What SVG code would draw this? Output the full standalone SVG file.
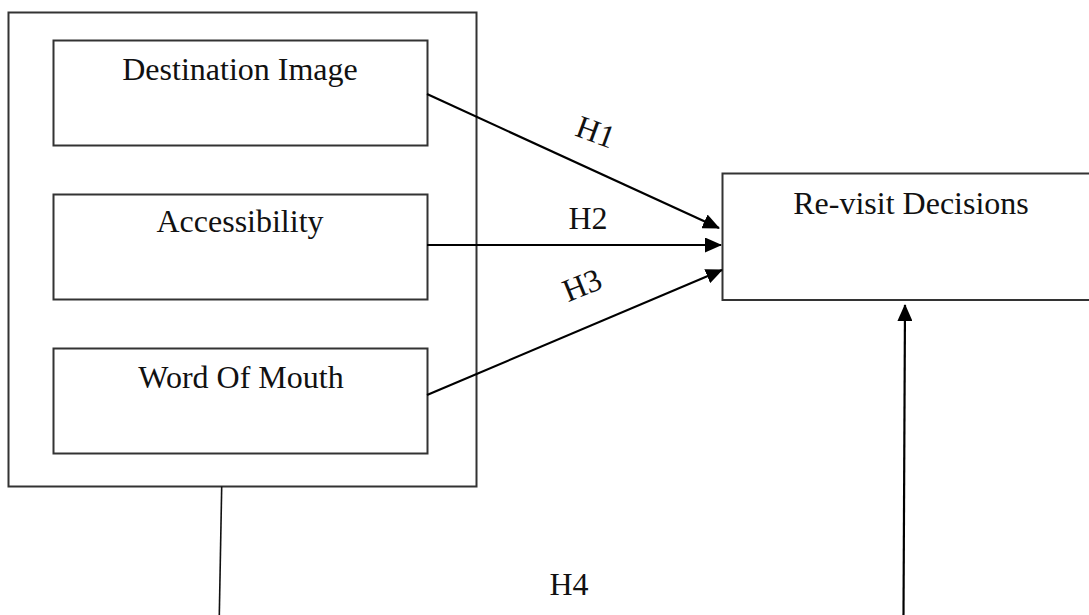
<svg xmlns="http://www.w3.org/2000/svg" width="1089" height="615" viewBox="0 0 1089 615">
<style>
.box{fill:#fff;stroke:#333;stroke-width:2}
.lbl{font-family:"Liberation Serif","Times New Roman",serif;font-size:32px;fill:#111;text-anchor:middle}
.arr{stroke:#000;stroke-width:2.2;fill:none}
</style>
<defs>
<marker id="ah" markerUnits="userSpaceOnUse" markerWidth="17" markerHeight="15" refX="16" refY="7.5" orient="auto">
<path d="M0,0 L17,7.5 L0,15 Z" fill="#000"/>
</marker>
</defs>
<rect width="1089" height="615" fill="#fff"/>
<g id="outer">
<rect class="box" x="8.5" y="12.5" width="468" height="474"/>
</g>
<g id="destination-image">
<rect class="box" x="53.5" y="40.5" width="374" height="105"/>
<text class="lbl" x="240" y="80">Destination Image</text>
</g>
<g id="accessibility">
<rect class="box" x="53.5" y="194.5" width="374" height="105"/>
<text class="lbl" x="240" y="232">Accessibility</text>
</g>
<g id="word-of-mouth">
<rect class="box" x="53.5" y="348.5" width="374" height="105"/>
<text class="lbl" x="241" y="388">Word Of Mouth</text>
</g>
<g id="revisit-decisions">
<rect class="box" x="722.5" y="173.5" width="380" height="126.5"/>
<text class="lbl" x="911" y="214">Re-visit Decisions</text>
</g>
<g id="connectors">
<line class="arr" x1="427" y1="94" x2="719" y2="228" marker-end="url(#ah)"/>
<line class="arr" x1="427" y1="245" x2="721" y2="245" marker-end="url(#ah)"/>
<line class="arr" x1="427" y1="395" x2="722" y2="270" marker-end="url(#ah)"/>
<line x1="221.7" y1="486.5" x2="219.3" y2="615" stroke="#111" stroke-width="1.6"/>
<line class="arr" x1="903.5" y1="615" x2="905" y2="305" marker-end="url(#ah)"/>
<text class="lbl" transform="translate(592,142) rotate(20)">H1</text>
<text class="lbl" x="588" y="229">H2</text>
<text class="lbl" transform="translate(586,295) rotate(-22)">H3</text>
<text class="lbl" x="569" y="595">H4</text>
</g>
</svg>
